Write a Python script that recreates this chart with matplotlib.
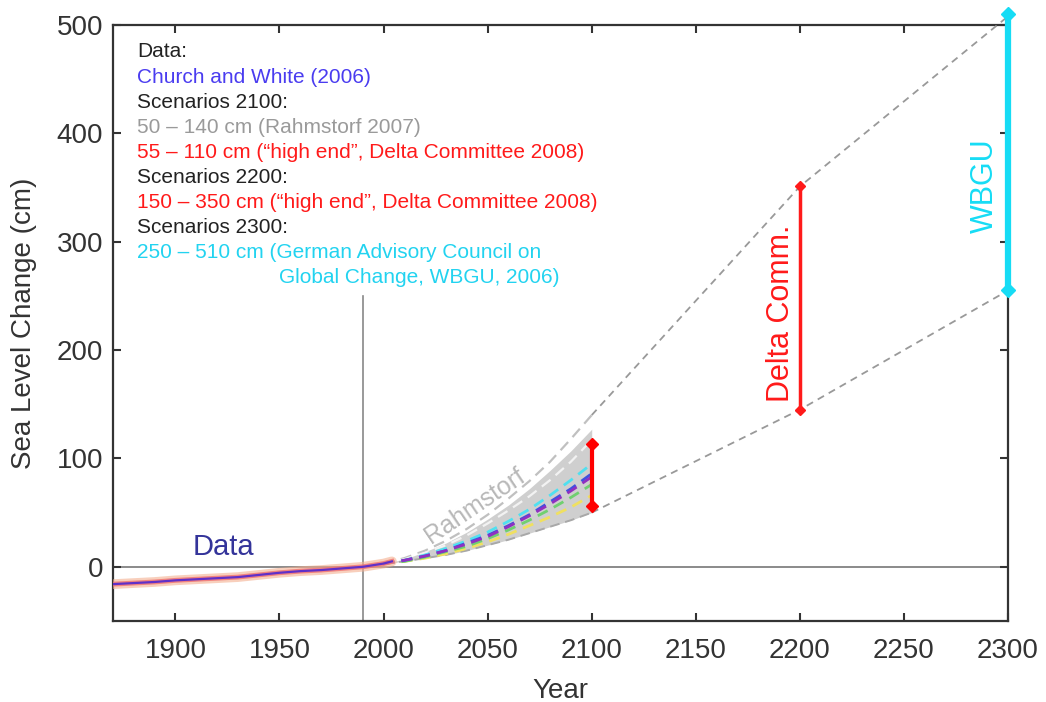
import matplotlib
matplotlib.use('Agg')
import matplotlib.pyplot as plt

plt.rcParams['font.family'] = ['Liberation Sans', 'DejaVu Sans']

# observed sea level (Church and White 2006), relative to 1990
obs_years = [1870, 1880, 1890, 1900, 1910, 1920, 1930, 1940, 1950, 1960, 1970, 1980, 1990, 2000, 2004]
obs_vals = [-16, -15, -14, -12.5, -11.5, -10.5, -9.5, -7.5, -5.5, -4, -3, -1.5, 0, 3, 5]

# projections 2000-2100
proj_years = [2000, 2010, 2020, 2030, 2040, 2050, 2060, 2070, 2080, 2090, 2100]
rahm_upper = [3, 8, 15, 24, 35, 48, 63, 79, 97, 118, 140]
band_top = [3, 7, 14, 22, 32, 44, 57, 72, 89, 107, 127]
band_inner = [3, 7, 13, 20, 29, 40, 52, 65, 80, 97, 117]
band_bottom = [3, 5, 8, 11, 15, 20, 25, 31, 37, 43, 50]
scen_cyan = [3, 6, 11, 17, 24, 32, 42, 53, 66, 80, 95]
scen_blue = [3, 6, 10, 15, 22, 29, 38, 48, 60, 72, 86]
scen_purple = [3, 6, 10, 15, 21, 28, 37, 47, 58, 70, 83]
scen_green = [3, 5, 9, 14, 19, 26, 34, 43, 53, 64, 76]
scen_yellow = [3, 5, 8, 12, 17, 23, 30, 38, 46, 55, 66]

# long-term extension envelopes
ext_years = [2100, 2200, 2300]
ext_upper = [140, 351, 508]
ext_lower = [50, 145, 255]

# committee ranges
delta2100 = [56, 113]
delta2200 = [145, 351]
wbgu2300 = [255, 510]

legend_lines = [
    ('Data:', '#222222', 0),
    ('Church and White (2006)', '#4a3cf0', 0),
    ('Scenarios 2100:', '#222222', 0),
    ('50 – 140 cm (Rahmstorf 2007)', '#9a9a9a', 0),
    ('55 – 110 cm (“high end”, Delta Committee 2008)', '#ff1a1a', 0),
    ('Scenarios 2200:', '#222222', 0),
    ('150 – 350 cm (“high end”, Delta Committee 2008)', '#ff1a1a', 0),
    ('Scenarios 2300:', '#222222', 0),
    ('250 – 510 cm (German Advisory Council on', '#22d3f0', 0),
    ('Global Change, WBGU, 2006)', '#22d3f0', 1),
]

fig = plt.figure(figsize=(10.46, 7.02), dpi=100)
ax = fig.add_axes([0.108, 0.1154, 0.8557, 0.849])

ax.axhline(0, color='#777777', lw=1.2, zorder=1)
ax.plot([1990, 1990], [-50, 250], color='#888888', lw=1.2, zorder=1)

# gray band and Rahmstorf lines
ax.fill_between(proj_years, band_bottom, band_top, color='#cfcfcf', lw=0, zorder=2)
ax.plot(proj_years, rahm_upper, color='#c0c0c0', lw=1.6, ls=(0, (5, 3)), zorder=3)
ax.plot(proj_years, band_inner, color='#f2f2f2', lw=1.6, ls=(0, (5, 3)), zorder=3)
ax.plot(proj_years, band_bottom, color='#a8a8a8', lw=1.4, ls=(0, (5, 3)), zorder=3)

for vals, col in [(scen_yellow, '#f0e060'), (scen_green, '#70d070'), (scen_cyan, '#50e0f0'),
                  (scen_blue, '#4050e0'), (scen_purple, '#9030c0')]:
    ax.plot(proj_years, vals, color=col, lw=2, ls=(0, (4, 2.5)), zorder=4)

ax.plot(ext_years, ext_upper, color='#999999', lw=1.3, ls=(0, (4, 3)), zorder=3, clip_on=False)
ax.plot(ext_years, ext_lower, color='#999999', lw=1.3, ls=(0, (4, 3)), zorder=3, clip_on=False)

# observations
ax.plot(obs_years, obs_vals, color='#f4b090', lw=7, alpha=0.6, zorder=5, solid_capstyle='round')
ax.plot(obs_years, obs_vals, color='#f07070', lw=3.5, alpha=0.8, zorder=5)
ax.plot(obs_years, obs_vals, color='#6030c8', lw=1.6, zorder=6)

# range bars
ax.plot([2100, 2100], delta2100, color='red', lw=3, marker='D', ms=6, zorder=7)
ax.plot([2200, 2200], delta2200, color='#ff1a1a', lw=2.5, marker='D', ms=5, zorder=7)
ax.plot([2300, 2300], wbgu2300, color='#16dcf5', lw=4.5, marker='D', ms=7, zorder=7, clip_on=False)

ax.text(1923, 18, 'Data', color='#34349a', fontsize=21, ha='center', va='center')
ax.text(2044, 56, 'Rahmstorf', color='#b8b8b8', fontsize=18, ha='center', va='center', rotation=34)
ax.text(2191, 234, 'Delta Comm.', color='#ff1a1a', fontsize=22, ha='center', va='center', rotation=90)
ax.text(2289, 352, 'WBGU', color='#16dcf5', fontsize=22, ha='center', va='center', rotation=90)

y0 = 52
for i, (txt, col, indent) in enumerate(legend_lines):
    ypx = y0 + i * 25.1
    xpx = 279 if indent else 137
    ax.text((xpx - 113) / 895, (621 - ypx) / 596, txt, color=col, fontsize=15,
            transform=ax.transAxes, va='center', ha='left')

ax.set_xlim(1870, 2300)
ax.set_ylim(-50, 500)
ax.set_xticks([1900, 1950, 2000, 2050, 2100, 2150, 2200, 2250, 2300])
ax.set_yticks([0, 100, 200, 300, 400, 500])
ax.tick_params(direction='in', top=True, right=True, length=6, width=1.5,
               labelsize=20, labelcolor='#333333', color='#333333')
ax.tick_params(axis='x', pad=12)
ax.tick_params(axis='y', pad=7)
for s in ax.spines.values():
    s.set_color('#333333')
    s.set_linewidth(1.6)

ax.set_xlabel('Year', fontsize=20, color='#333333', labelpad=10)
ax.set_ylabel('Sea Level Change (cm)', fontsize=20, color='#333333', labelpad=14)

fig.savefig('out.png', dpi=100, facecolor='white')
